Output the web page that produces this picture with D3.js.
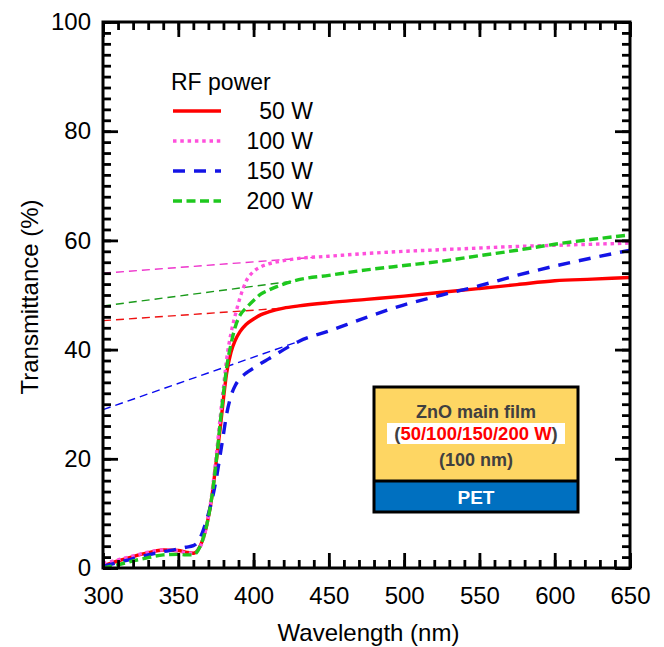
<!DOCTYPE html>
<html>
<head>
<meta charset="utf-8">
<script src="https://cdn.jsdelivr.net/npm/d3@7"></script>
<style>
  body { margin: 0; background: #fff; }
  svg { font-family: "Liberation Sans", Arial, sans-serif; }
</style>
</head>
<body>
<div id="chart"></div>
<script>
const width = 664;
const height = 647;
const margin = { top: 22, right: 34, bottom: 79, left: 103 };

// wavelength grid (nm) shared by all series
const wavelength = [300, 310, 320, 330, 340, 350, 355, 360, 363, 366, 369, 372, 375, 378, 380, 382, 385, 388, 391, 395,
  400, 405, 410, 420, 430, 450, 475, 500, 525, 550, 575, 600, 625, 650];

// transmittance (%) per RF power
const t50 = [0.4, 1.3, 2.1, 2.8, 3.3, 3.2, 2.9, 2.7, 3.3, 5.0, 8.0, 12.5, 19, 26, 31, 35.5, 39.5, 41.8, 43.3, 44.6,
  45.6, 46.4, 46.9, 47.6, 48.0, 48.6, 49.2, 49.8, 50.5, 51.2, 51.9, 52.6, 52.9, 53.2];
const t100 = [0.8, 1.5, 2.2, 2.9, 3.3, 3.1, 2.8, 2.7, 3.2, 4.8, 8.0, 13, 20, 28, 33, 38, 43, 46.5, 49.5, 52.5,
  54.3, 55.2, 55.7, 56.3, 56.7, 57.1, 57.6, 58.0, 58.3, 58.6, 58.9, 59.1, 59.3, 59.5];
const t150 = [0.3, 1.0, 1.7, 2.4, 3.0, 3.5, 3.8, 4.1, 4.8, 6.5, 9, 12, 16, 21, 24.5, 28, 31.5, 33.5, 34.7, 35.7,
  36.6, 37.5, 38.3, 40.0, 41.5, 43.4, 45.9, 48.2, 50.0, 51.7, 53.6, 55.3, 56.8, 58.2];
const t200 = [0, 0.6, 1.3, 1.9, 2.4, 2.5, 2.4, 2.4, 3.2, 5.0, 8.0, 12.5, 19, 27, 32, 36.5, 41, 44.3, 46.3, 47.6,
  49.0, 50.2, 50.9, 52.0, 52.8, 53.6, 54.6, 55.4, 56.2, 57.2, 58.2, 59.3, 60.2, 61.0];

// linear extrapolation of the flat part back to 300 nm: [start nm, start %, end nm, end %]
const fit50 = [300, 45.3, 420, 47.6];
const fit100 = [300, 54.0, 440, 56.9];
const fit150 = [300, 29.0, 430, 41.5];
const fit200 = [300, 48.0, 425, 52.5];

const powerLabels = ['50 W', '100 W', '150 W', '200 W'];
const xTicks = [300, 350, 400, 450, 500, 550, 600, 650];
const yTicks = [0, 20, 40, 60, 80, 100];

const series = [
  { label: powerLabels[0], values: t50, fit: fit50, color: '#ff0000', fitColor: '#ee1111', dash: null },
  { label: powerLabels[1], values: t100, fit: fit100, color: '#ff50dc', fitColor: '#ee33cc', dash: '3.5,3.8' },
  { label: powerLabels[2], values: t150, fit: fit150, color: '#1414e6', fitColor: '#0a0aee', dash: '12,9' },
  { label: powerLabels[3], values: t200, fit: fit200, color: '#1ec81e', fitColor: '#1a9a1a', dash: '9,4.5' }
];

const svg = d3.select('#chart').append('svg')
  .attr('width', width)
  .attr('height', height);

const innerW = width - margin.left - margin.right;
const innerH = height - margin.top - margin.bottom;

const x = d3.scaleLinear().domain([300, 650]).range([margin.left, margin.left + innerW]);
const y = d3.scaleLinear().domain([0, 100]).range([margin.top + innerH, margin.top]);

svg.append('clipPath').attr('id', 'plot')
  .append('rect')
    .attr('x', margin.left).attr('y', margin.top)
    .attr('width', innerW).attr('height', innerH);

const plot = svg.append('g').attr('clip-path', 'url(#plot)');

// thin dashed extrapolation lines
plot.selectAll('line.fit')
  .data(series)
  .enter().append('line')
    .attr('class', 'fit')
    .attr('x1', d => x(d.fit[0]))
    .attr('y1', d => y(d.fit[1]))
    .attr('x2', d => x(d.fit[2]))
    .attr('y2', d => y(d.fit[3]))
    .attr('stroke', d => d.fitColor)
    .attr('stroke-width', 1.4)
    .attr('stroke-dasharray', '8,5');

const line = d3.line()
  .x((d, i) => x(wavelength[i]))
  .y(d => y(d))
  .curve(d3.curveMonotoneX);

plot.selectAll('path.curve')
  .data(series)
  .enter().append('path')
    .attr('class', 'curve')
    .attr('d', d => line(d.values))
    .attr('fill', 'none')
    .attr('stroke', d => d.color)
    .attr('stroke-width', 3.4)
    .attr('stroke-dasharray', d => d.dash);

// axes: ticks point inward on all four sides
const xMinor = d3.range(300, 651, 10);
const yMinor = d3.range(0, 101, 2);

function styleAxis(g) {
  g.select('.domain').remove();
  g.selectAll('.tick line').attr('stroke', '#000').attr('stroke-width', 2.8);
  g.selectAll('.tick text').attr('fill', '#000').style('font-size', '24px');
}

const bottom = margin.top + innerH;
const right = margin.left + innerW;

svg.append('g').attr('transform', `translate(0,${bottom})`)
  .call(d3.axisBottom(x).tickValues(xMinor).tickSize(-8).tickFormat(''))
  .call(styleAxis);
svg.append('g').attr('transform', `translate(0,${bottom})`)
  .call(d3.axisBottom(x).tickValues(xTicks).tickSize(-15).tickPadding(19).tickFormat(d3.format('d')))
  .call(styleAxis)
  .selectAll('.tick text').attr('dy', '0.71em');

svg.append('g').attr('transform', `translate(0,${margin.top})`)
  .call(d3.axisTop(x).tickValues(xMinor).tickSize(-8).tickFormat(''))
  .call(styleAxis);
svg.append('g').attr('transform', `translate(0,${margin.top})`)
  .call(d3.axisTop(x).tickValues(xTicks).tickSize(-15).tickFormat(''))
  .call(styleAxis);

svg.append('g').attr('transform', `translate(${margin.left},0)`)
  .call(d3.axisLeft(y).tickValues(yMinor).tickSize(-8).tickFormat(''))
  .call(styleAxis);
svg.append('g').attr('transform', `translate(${margin.left},0)`)
  .call(d3.axisLeft(y).tickValues(yTicks).tickSize(-15).tickPadding(12).tickFormat(d3.format('d')))
  .call(styleAxis);

svg.append('g').attr('transform', `translate(${right},0)`)
  .call(d3.axisRight(y).tickValues(yMinor).tickSize(-8).tickFormat(''))
  .call(styleAxis);
svg.append('g').attr('transform', `translate(${right},0)`)
  .call(d3.axisRight(y).tickValues(yTicks).tickSize(-15).tickFormat(''))
  .call(styleAxis);

// frame
svg.append('rect')
  .attr('x', margin.left).attr('y', margin.top)
  .attr('width', innerW).attr('height', innerH)
  .attr('fill', 'none')
  .attr('stroke', '#000')
  .attr('stroke-width', 3);

// axis titles
svg.append('text')
  .attr('x', (margin.left + right) / 2 + 2)
  .attr('y', 641)
  .attr('text-anchor', 'middle')
  .style('font-size', '24px')
  .text('Wavelength (nm)');

svg.append('text')
  .attr('transform', 'translate(38,297) rotate(-90)')
  .attr('text-anchor', 'middle')
  .style('font-size', '24px')
  .text('Transmittance (%)');

// legend
const legend = svg.append('g').attr('transform', 'translate(172,0)');
legend.append('text')
  .attr('x', -1).attr('y', 90)
  .style('font-size', '23px')
  .text('RF power');

const item = legend.selectAll('g.item')
  .data(series)
  .enter().append('g')
    .attr('class', 'item')
    .attr('transform', (d, i) => `translate(0,${111 + i * 30})`);

item.append('line')
  .attr('x1', 1).attr('x2', 49)
  .attr('stroke', d => d.color)
  .attr('stroke-width', 3.4)
  .attr('stroke-dasharray', d => d.dash);

item.append('text')
  .attr('x', 141).attr('y', 8)
  .attr('text-anchor', 'end')
  .style('font-size', '23px')
  .text(d => d.label);

// layer stack inset
const inset = svg.append('g');
inset.append('rect')
  .attr('x', 374).attr('y', 387).attr('width', 204).attr('height', 94)
  .attr('fill', '#fed663');
inset.append('rect')
  .attr('x', 374).attr('y', 481).attr('width', 204).attr('height', 31)
  .attr('fill', '#0070c0');
inset.append('line')
  .attr('x1', 374).attr('x2', 578).attr('y1', 481).attr('y2', 481)
  .attr('stroke', '#000').attr('stroke-width', 3);
inset.append('rect')
  .attr('x', 374).attr('y', 387).attr('width', 204).attr('height', 125)
  .attr('fill', 'none')
  .attr('stroke', '#000').attr('stroke-width', 3);

inset.append('rect')
  .attr('x', 387).attr('y', 423).attr('width', 178).attr('height', 21)
  .attr('fill', '#fff');

const insetText = [
  { t: 'ZnO main film', y: 418 },
  { t: '(100 nm)', y: 466 }
];
inset.selectAll('text.layer')
  .data(insetText)
  .enter().append('text')
    .attr('class', 'layer')
    .attr('x', 476).attr('y', d => d.y)
    .attr('text-anchor', 'middle')
    .style('font-size', '18px').style('font-weight', 'bold')
    .attr('fill', '#404040')
    .text(d => d.t);

const powerLine = inset.append('text')
  .attr('x', 476).attr('y', 440)
  .attr('text-anchor', 'middle')
  .style('font-size', '18.5px').style('font-weight', 'bold');
powerLine.append('tspan').attr('fill', '#404040').text('(');
powerLine.append('tspan').attr('fill', '#ff0000').text('50/100/150/200 W');
powerLine.append('tspan').attr('fill', '#404040').text(')');

inset.append('text')
  .attr('x', 476).attr('y', 504)
  .attr('text-anchor', 'middle')
  .style('font-size', '19px').style('font-weight', 'bold')
  .attr('fill', '#fff')
  .text('PET');
</script>
</body>
</html>
